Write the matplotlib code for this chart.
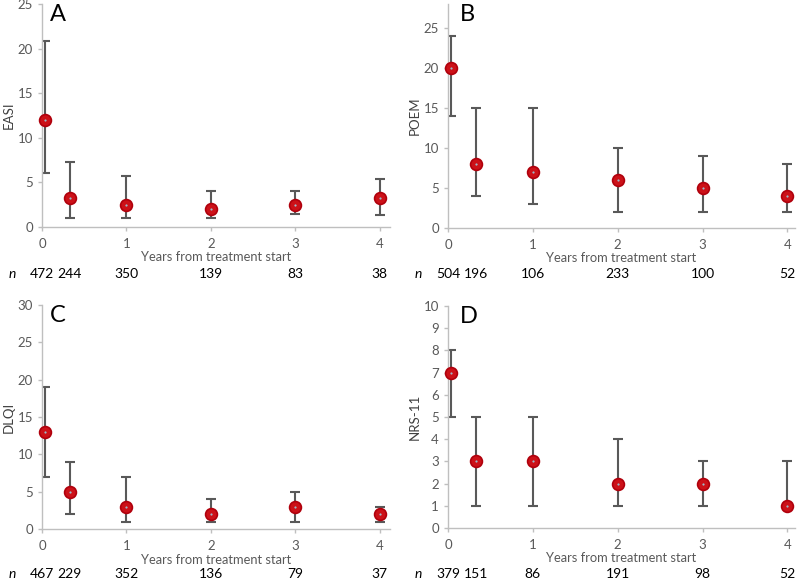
import matplotlib
matplotlib.use("Agg")
import matplotlib.pyplot as plt

plt.rcParams['font.family'] = ['Lato', 'DejaVu Sans']

x_years = [0.04, 0.33, 1, 2, 3, 4]

easi_med = [12, 3.2, 2.5, 2.0, 2.5, 3.3]
easi_lo = [6, 1, 1, 1, 1.5, 1.3]
easi_hi = [20.8, 7.3, 5.7, 4, 4, 5.4]
easi_n = ["472", "244", "350", "139", "83", "38"]

poem_med = [20, 8, 7, 6, 5, 4]
poem_lo = [14, 4, 3, 2, 2, 2]
poem_hi = [24, 15, 15, 10, 9, 8]
poem_n = ["504", "196", "106", "233", "100", "52"]

dlqi_med = [13, 5, 3, 2, 3, 2]
dlqi_lo = [7, 2, 1, 1, 1, 1]
dlqi_hi = [19, 9, 7, 4, 5, 3]
dlqi_n = ["467", "229", "352", "136", "79", "37"]

nrs_med = [7, 3, 3, 2, 2, 1]
nrs_lo = [5, 1, 1, 1, 1, 1]
nrs_hi = [8, 5, 5, 4, 3, 3]
nrs_n = ["379", "151", "86", "191", "98", "52"]

x_ticks = [0, 1, 2, 3, 4]

W, H = 800, 580
fig = plt.figure(figsize=(8, 5.8), dpi=100)

panels = [
    dict(letter="A", ylabel="EASI", med=easi_med, lo=easi_lo, hi=easi_hi, n=easi_n,
         px=(42, 390, 227, 4), ylim=25, yticks=range(0, 26, 5), xmax=4.12, ny=274, nx=9, lx=0.022),
    dict(letter="B", ylabel="POEM", med=poem_med, lo=poem_lo, hi=poem_hi, n=poem_n,
         px=(448, 795, 228, 4), ylim=28, yticks=range(0, 26, 5), xmax=4.09, ny=274, nx=415, lx=0.033),
    dict(letter="C", ylabel="DLQI", med=dlqi_med, lo=dlqi_lo, hi=dlqi_hi, n=dlqi_n,
         px=(42, 390, 529, 305), ylim=30, yticks=range(0, 31, 5), xmax=4.12, ny=574, nx=9, lx=0.022),
    dict(letter="D", ylabel="NRS-11", med=nrs_med, lo=nrs_lo, hi=nrs_hi, n=nrs_n,
         px=(448, 795, 528, 306), ylim=10, yticks=range(0, 11, 1), xmax=4.09, ny=574, nx=415, lx=0.033),
]

axis_col = "#BFBFBF"
tick_col = "#595959"
err_col = "#595959"

for p in panels:
    l, r, b, t = p["px"]
    ax = fig.add_axes([l / W, 1 - b / H, (r - l) / W, (b - t) / H])
    ax.set_xlim(0, p["xmax"])
    ax.set_ylim(0, p["ylim"])
    for s in ["top", "right"]:
        ax.spines[s].set_visible(False)
    for s in ["left", "bottom"]:
        ax.spines[s].set_color(axis_col)
        ax.spines[s].set_linewidth(1.0)
    ax.set_xticks(x_ticks)
    ax.set_yticks(list(p["yticks"]))
    ax.tick_params(axis="both", colors=axis_col, labelcolor=tick_col, labelsize=9.5,
                   length=3, width=1, direction="out")
    ax.tick_params(axis="x", pad=5)
    ax.set_xlabel("Years from treatment start", color=tick_col, fontsize=9.3, labelpad=1)
    ax.set_ylabel(p["ylabel"], color="#404040", fontsize=9.5, labelpad=2)
    med = p["med"]
    yerr = [[m - lo for m, lo in zip(med, p["lo"])], [hi - m for m, hi in zip(med, p["hi"])]]
    ax.errorbar(x_years, med, yerr=yerr, fmt="none", ecolor=err_col, elinewidth=1.5,
                capsize=3.5, capthick=1.5, zorder=2)
    ax.plot(x_years, med, "o", ms=8.5, mfc="#CC1118", mec="#B0000C", mew=1.2, zorder=3, clip_on=False)
    ax.plot(x_years, med, "o", ms=1.6, mfc="#9DB8C8", mec="none", zorder=4, clip_on=False)
    ax.text(p["lx"], 1.0, p["letter"], transform=ax.transAxes,
            fontsize=17, color="black", va="top", ha="left")
    # n row
    fig.text(p["nx"] / W, 1 - p["ny"] / H, "n", style="italic", fontsize=10,
             color="black", ha="left", va="center")
    for i, (xv, nv) in enumerate(zip(x_years, p["n"])):
        xp = l + (r - l) * xv / p["xmax"]
        if i == 0:
            xp -= 3
        fig.text(xp / W, 1 - p["ny"] / H, nv, fontsize=10, color="black",
                 ha="center", va="center")

fig.savefig("out.png", dpi=100)
